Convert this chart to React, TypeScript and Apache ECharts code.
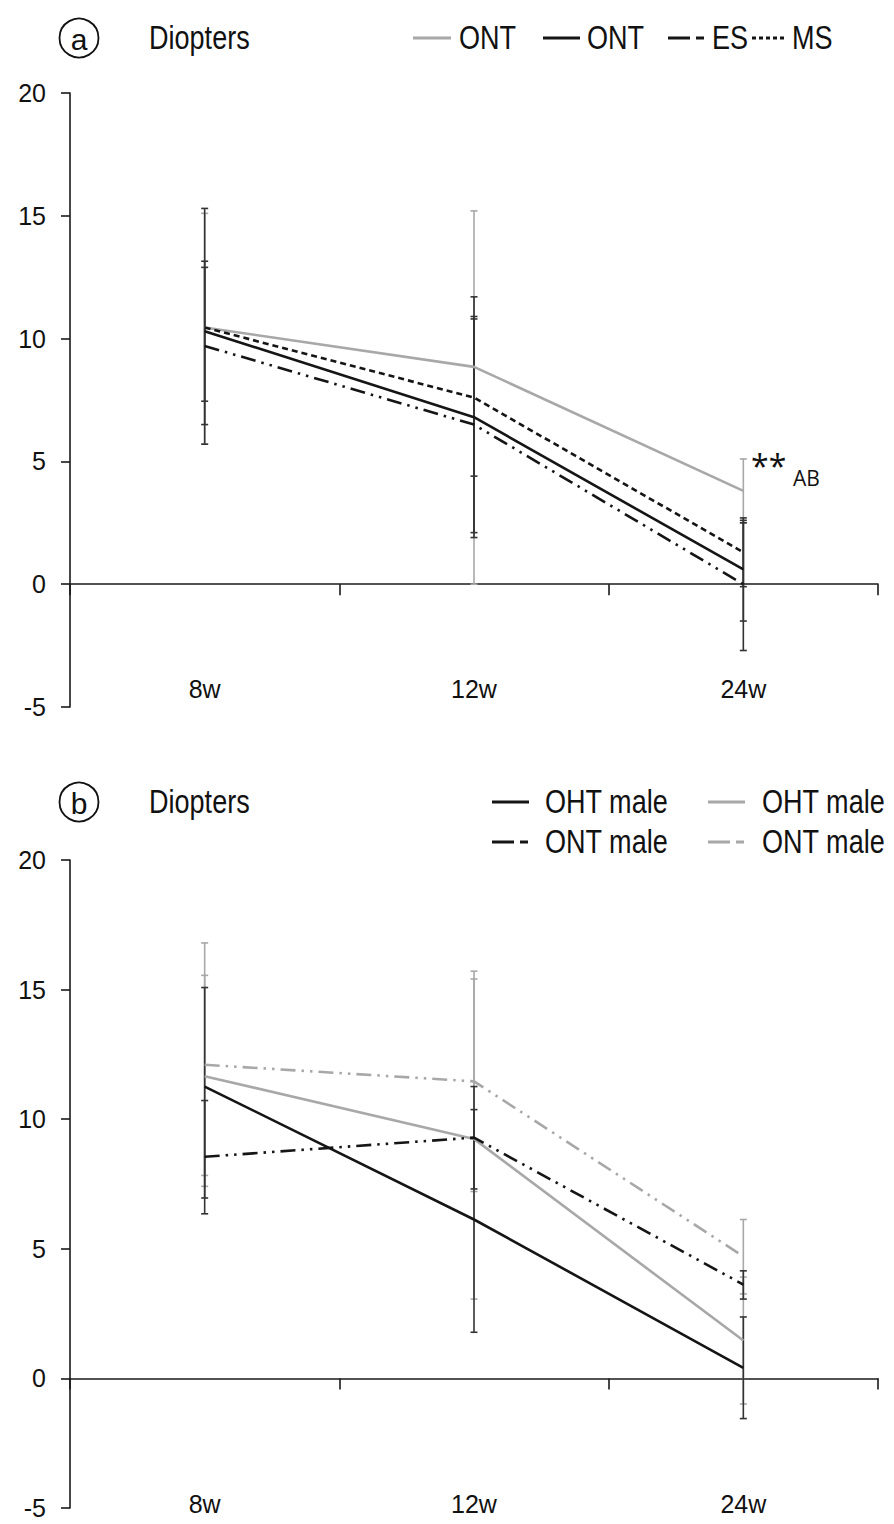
import React, { useEffect, useRef } from "react";
import * as echarts from "echarts";

const categories = ["8w", "12w", "24w"];
const yTicks = { min: -5, max: 20, interval: 5 };

// Panel a
const aOntGray = [10.45, 8.85, 3.8];
const aOntGrayLow = [5.7, 0, 2.5];
const aOntGrayHigh = [15.1, 15.2, 5.1];
const aOntBlack = [10.3, 6.8, 0.6];
const aOntBlackLow = [7.45, 1.9, -1.5];
const aOntBlackHigh = [13.15, 11.7, 2.6];
const aES = [9.7, 6.5, 0.0];
const aESLow = [6.5, 2.1, -2.7];
const aESHigh = [12.9, 10.9, 2.5];
const aMS = [10.45, 7.6, 1.3];
const aMSLow = [5.7, 4.4, -0.1];
const aMSHigh = [15.3, 10.8, 2.7];

// Panel b
const bOhtBlack = [11.26, 6.13, 0.41];
const bOhtBlackLow = [6.96, 1.78, -1.55];
const bOhtBlackHigh = [15.08, 10.37, 2.37];
const bOhtGray = [11.66, 9.24, 1.46];
const bOhtGrayLow = [7.83, 3.06, -0.99];
const bOhtGrayHigh = [15.55, 15.41, 3.91];
const bOntBlack = [8.55, 9.29, 3.62];
const bOntBlackLow = [6.35, 7.31, 3.06];
const bOntBlackHigh = [10.72, 11.26, 4.15];
const bOntGray = [12.1, 11.46, 4.71];
const bOntGrayLow = [7.41, 7.21, 3.26];
const bOntGrayHigh = [16.8, 15.71, 6.13];

const GRAY = "#a8a8a8";
const BLACK = "#151515";
const LW = 2.6;
const DASH_DOT = [15, 6, 2.5, 6, 2.5, 6];
const SHORT_DASH = [6, 4];
const FONT = "Liberation Sans, Arial, Helvetica, sans-serif";

function lineSeries(name: string, data: number[], color: string, dash: any, idx: number) {
  return {
    type: "line",
    name,
    data,
    xAxisIndex: idx,
    yAxisIndex: idx,
    symbol: "none",
    z: 3,
    lineStyle: { color, width: LW, type: dash },
    silent: true,
  };
}

function errSeries(lows: number[], highs: number[], color: string, idx: number) {
  return {
    type: "custom",
    xAxisIndex: idx,
    yAxisIndex: idx,
    z: 2,
    silent: true,
    encode: { x: 0, y: [1, 2] },
    data: lows.map((l, i) => [i, l, highs[i]]),
    renderItem: (params: any, api: any) => {
      const x = api.value(0);
      const lo = api.coord([x, api.value(1)]);
      const hi = api.coord([x, api.value(2)]);
      const w = 3.5;
      const st = { stroke: color, lineWidth: 1.6 };
      return {
        type: "group",
        children: [
          { type: "line", shape: { x1: lo[0], y1: lo[1], x2: hi[0], y2: hi[1] }, style: st },
          { type: "line", shape: { x1: lo[0] - w, y1: lo[1], x2: lo[0] + w, y2: lo[1] }, style: st },
          { type: "line", shape: { x1: hi[0] - w, y1: hi[1], x2: hi[0] + w, y2: hi[1] }, style: st },
        ],
      };
    },
  };
}

function xAxis(idx: number, margin: number) {
  return {
    type: "category",
    gridIndex: idx,
    data: categories,
    boundaryGap: true,
    axisLine: { onZero: true, lineStyle: { color: "#1a1a1a", width: 1.6 } },
    axisTick: { show: true, length: 11, interval: 0, lineStyle: { color: "#1a1a1a", width: 1.6 } },
    axisLabel: { margin, fontSize: 25, color: "#111", fontFamily: FONT },
    splitLine: { show: false },
  };
}

function yAxis(idx: number) {
  return {
    type: "value",
    gridIndex: idx,
    min: yTicks.min,
    max: yTicks.max,
    interval: yTicks.interval,
    axisLine: { show: true, onZero: false, lineStyle: { color: "#1a1a1a", width: 1.6 } },
    axisTick: { show: true, length: 9, lineStyle: { color: "#1a1a1a", width: 1.6 } },
    axisLabel: { margin: 24, fontSize: 25, color: "#111", fontFamily: FONT },
    splitLine: { show: false },
  };
}

function condText(text: string, x: number, y: number, size = 33, align = "left") {
  return {
    type: "text",
    x,
    y,
    scaleX: 0.82,
    silent: true,
    style: {
      text,
      font: `${size}px ${FONT}`,
      fill: "#111",
      textAlign: align,
      textVerticalAlign: "middle",
    },
  };
}

function legLine(x1: number, x2: number, y: number, color: string, dash?: any) {
  return {
    type: "line",
    silent: true,
    shape: { x1, y1: y, x2, y2: y },
    style: { stroke: color, lineWidth: 3, lineDash: dash },
  };
}

function panelLabel(letter: string, cx: number, cy: number) {
  return [
    {
      type: "circle",
      silent: true,
      shape: { cx, cy, r: 19.5 },
      style: { fill: "none", stroke: "#111", lineWidth: 1.8 },
    },
    { ...condText(letter, cx, cy + 1, 30, "center"), scaleX: 1 },
    condText("Diopters", 149, cy),
  ];
}

export default function App() {
  const ref = useRef<HTMLDivElement>(null);
  useEffect(() => {
    if (!ref.current) return;
    const chart = echarts.init(ref.current, undefined, { renderer: "svg" });
    const option: any = {
      animation: false,
      backgroundColor: "#ffffff",
      grid: [
        { left: 70, width: 808, top: 93, height: 614, outerBoundsMode: "none", containLabel: false },
        { left: 70, width: 808, top: 860, height: 648, outerBoundsMode: "none", containLabel: false },
      ],
      xAxis: [xAxis(0, -31), xAxis(1, -17)],
      yAxis: [yAxis(0), yAxis(1)],
      series: [
        errSeries(aOntGrayLow, aOntGrayHigh, GRAY, 0),
        errSeries(aOntBlackLow, aOntBlackHigh, "#333", 0),
        errSeries(aESLow, aESHigh, "#333", 0),
        errSeries(aMSLow, aMSHigh, "#333", 0),
        lineSeries("ONT", aOntGray, GRAY, "solid", 0),
        lineSeries("ONT ", aOntBlack, BLACK, "solid", 0),
        lineSeries("ES", aES, BLACK, DASH_DOT, 0),
        lineSeries("MS", aMS, BLACK, SHORT_DASH, 0),

        errSeries(bOntGrayLow, bOntGrayHigh, GRAY, 1),
        errSeries(bOhtGrayLow, bOhtGrayHigh, GRAY, 1),
        errSeries(bOhtBlackLow, bOhtBlackHigh, "#333", 1),
        errSeries(bOntBlackLow, bOntBlackHigh, "#333", 1),
        lineSeries("OHT male", bOhtBlack, BLACK, "solid", 1),
        lineSeries("OHT male ", bOhtGray, GRAY, "solid", 1),
        lineSeries("ONT male", bOntBlack, BLACK, DASH_DOT, 1),
        lineSeries("ONT male ", bOntGray, GRAY, DASH_DOT, 1),
      ],
      graphic: [
        ...panelLabel("a", 79, 38),
        legLine(413, 451, 38, GRAY),
        condText("ONT", 459, 38),
        legLine(543, 580, 38, BLACK),
        condText("ONT", 587, 38),
        legLine(668, 704, 38, BLACK, [22, 6, 8, 100]),
        condText("ES", 712, 38),
        legLine(752, 786, 38, BLACK, [4, 3]),
        condText("MS", 792, 38),
        {
          type: "text",
          x: 751,
          y: 465,
          silent: true,
          style: { text: "**", font: `32px Open Sans, ${FONT}`, fill: "#111", textVerticalAlign: "middle" },
        },
        {
          type: "text",
          x: 793,
          y: 478,
          silent: true,
          style: { text: "AB", font: `21px Open Sans, ${FONT}`, fill: "#111", textVerticalAlign: "middle" },
        },

        ...panelLabel("b", 79, 802),
        legLine(492, 529, 802, BLACK),
        condText("OHT male", 545, 802),
        legLine(708, 745, 802, GRAY),
        condText("OHT male", 762, 802),
        legLine(492, 529, 842, BLACK, [22, 6, 8, 100]),
        condText("ONT male", 545, 842),
        legLine(708, 745, 842, GRAY, [22, 6, 8, 100]),
        condText("ONT male", 762, 842),
      ],
    };
    chart.setOption(option);
    return () => chart.dispose();
  }, []);
  return (
    <div
      ref={ref}
      style={{ position: "absolute", left: 0, top: 0, width: 894, height: 1524, background: "#fff" }}
    />
  );
}
